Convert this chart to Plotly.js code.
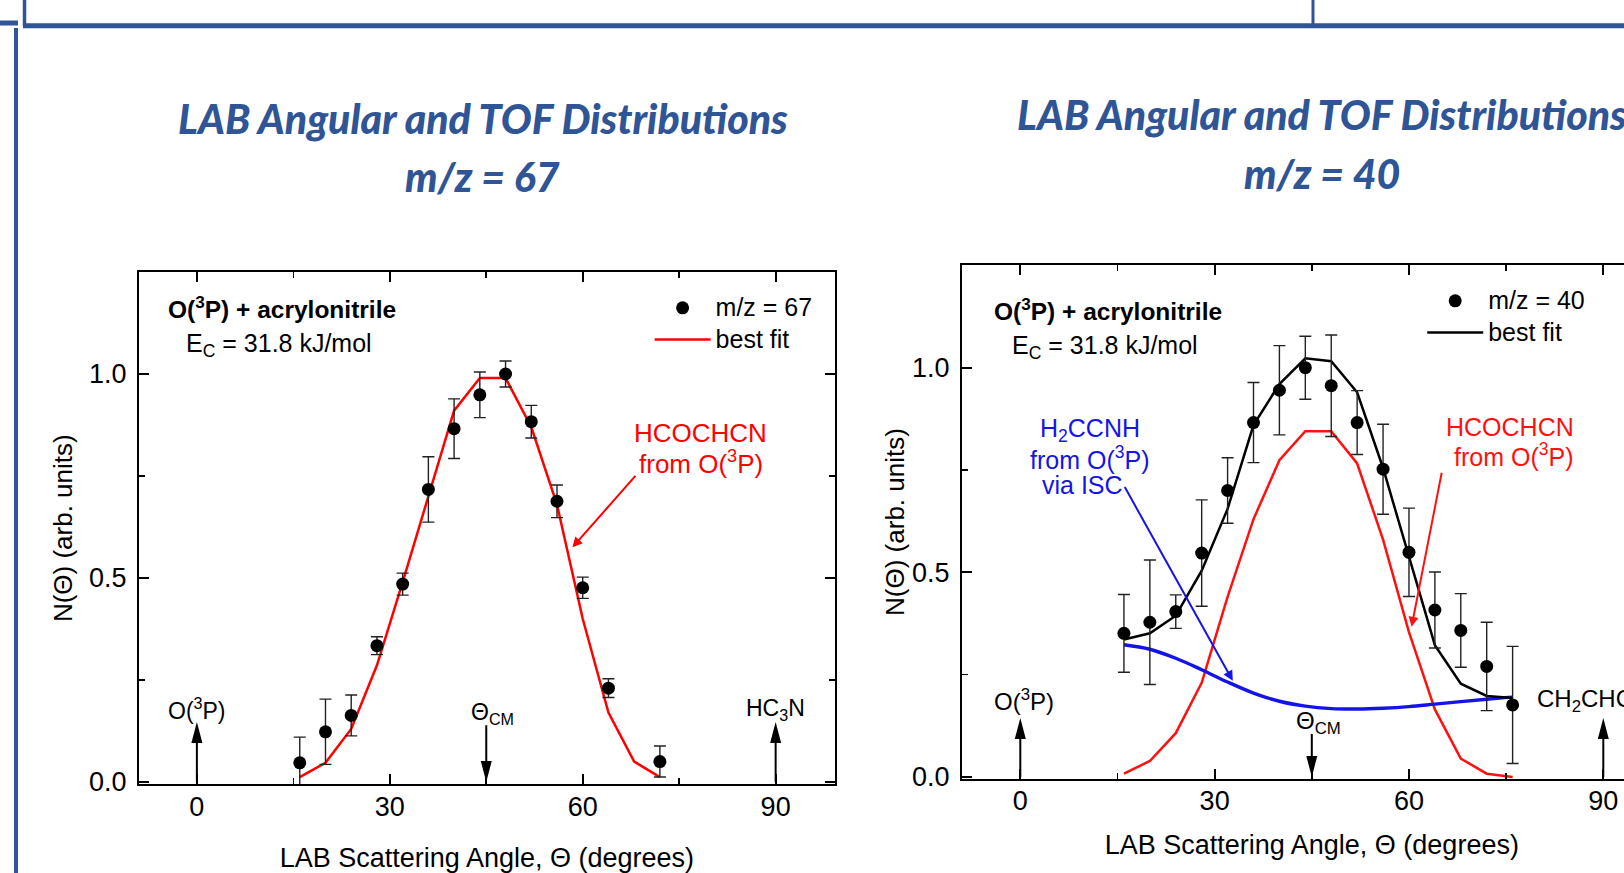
<!DOCTYPE html>
<html><head><meta charset="utf-8">
<script src="https://cdn.plot.ly/plotly-3.0.1.min.js"></script>
<style>html,body{margin:0;padding:0;overflow:hidden;background:#fff;width:1624px;height:873px}#chart{width:1680px;height:873px}</style>
</head><body><div id="chart"></div>
<script>
// ---- data: m/z = 67 ----
const angles67 = [16,20,24,28,32,36,40,44,48,52,56,60,64,72];
const signal67 = [0.047,0.123,0.163,0.334,0.485,0.717,0.866,0.949,1.0,0.883,0.688,0.476,0.23,0.05];
const error67  = [0.063,0.08,0.05,0.022,0.027,0.08,0.073,0.056,0.032,0.04,0.04,0.026,0.023,0.038];
const fitAngles67 = [16,20,24,28,32,36,40,44,48,52,56,60,64,68,72];
const fit67 = [0.012,0.047,0.13,0.286,0.49,0.70,0.91,0.99,0.99,0.87,0.68,0.40,0.17,0.05,0.012];
// ---- data: m/z = 40 ----
const angles40 = [16,20,24,28,32,36,40,44,48,52,56,60,64,68,72,76];
const signal40 = [0.351,0.378,0.404,0.547,0.70,0.866,0.945,1.0,0.956,0.866,0.752,0.549,0.408,0.358,0.27,0.176];
const error40  = [0.095,0.152,0.041,0.13,0.08,0.098,0.109,0.077,0.124,0.078,0.11,0.108,0.093,0.09,0.108,0.143];
const fit40     = [0.336,0.351,0.394,0.504,0.655,0.86,0.96,1.023,1.016,0.94,0.755,0.537,0.322,0.228,0.198,0.193];
const hcochcn40 = [0.008,0.039,0.107,0.23,0.44,0.63,0.774,0.845,0.845,0.766,0.58,0.354,0.165,0.045,0.008,0.0];
const h2ccnh40  = [0.323,0.312,0.29,0.262,0.232,0.205,0.185,0.173,0.167,0.166,0.168,0.172,0.178,0.184,0.19,0.195];
// reference directions (LAB angles)
const refAngles = [0, 45, 90];
const refLabels67 = ['O(<sup>3</sup>P)', 'Θ<sub>CM</sub>', 'HC<sub>3</sub>N'];
const refLabels40 = ['O(<sup>3</sup>P)', 'Θ<sub>CM</sub>', 'CH<sub>2</sub>CHCN'];
const xTicks = [0, 30, 60, 90];
const xMinor = [15, 45, 75];
const yTicks = [0, 0.5, 1.0];
const yMinor = [0.25, 0.75];

const W = 1680, H = 873;
const F = 'Liberation Sans, Arial, sans-serif';
const BLUE = '#2F5597';
const px = v => v / W, py = v => 1 - v / H;
const big = s => '<span style="font-size:25px">' + s + '</span>';

const traces = [
  {x: fitAngles67, y: fit67, type: 'scatter', mode: 'lines', name: big('best fit'), legend: 'legend', legendrank: 2,
   line: {color: '#FF0000', width: 2.5}, xaxis: 'x', yaxis: 'y'},
  {x: angles67, y: signal67, type: 'scatter', mode: 'markers', name: big('m/z = 67'), legend: 'legend', legendrank: 1,
   marker: {color: '#000', size: 13}, error_y: {type: 'data', array: error67, color: '#222', thickness: 1.4, width: 6},
   xaxis: 'x', yaxis: 'y'},
  {x: angles40, y: hcochcn40, type: 'scatter', mode: 'lines', showlegend: false,
   line: {color: '#FF1010', width: 2.5}, xaxis: 'x2', yaxis: 'y2'},
  {x: angles40, y: h2ccnh40, type: 'scatter', mode: 'lines', showlegend: false,
   line: {color: '#1414E6', width: 3.4, shape: 'spline', smoothing: 1}, xaxis: 'x2', yaxis: 'y2'},
  {x: angles40, y: fit40, type: 'scatter', mode: 'lines', name: big('best fit'), legend: 'legend2', legendrank: 2,
   line: {color: '#000', width: 2.5}, xaxis: 'x2', yaxis: 'y2'},
  {x: angles40, y: signal40, type: 'scatter', mode: 'markers', name: big('m/z = 40'), legend: 'legend2', legendrank: 1,
   marker: {color: '#000', size: 13}, error_y: {type: 'data', array: error40, color: '#222', thickness: 1.4, width: 6},
   xaxis: 'x2', yaxis: 'y2'}
];

function xAxis(domain, range, anchor, lblOff, titleOff) {
  return {domain, range, anchor, tickvals: xTicks, ticks: 'inside', ticklen: 10, tickwidth: 2, tickcolor: '#000',
    minor: {tickvals: xMinor, ticks: 'inside', ticklen: 6, tickwidth: 1.6, tickcolor: '#000'},
    mirror: 'allticks', showline: true, linewidth: 2, linecolor: '#000', showgrid: false, zeroline: false,
    ticklabelstandoff: lblOff, tickfont: {family: F, size: 27, color: '#000'},
    title: {text: 'LAB Scattering Angle, Θ (degrees)', font: {family: F, size: 27, color: '#000'}, standoff: titleOff}};
}
function yAxis(domain, range, anchor, titleOff) {
  return {domain, range, anchor, tickvals: yTicks, tickformat: '.1f', ticks: 'inside', ticklen: 10, tickwidth: 2, tickcolor: '#000',
    minor: {tickvals: yMinor, ticks: 'inside', ticklen: 6, tickwidth: 1.6, tickcolor: '#000'},
    mirror: 'allticks', showline: true, linewidth: 2, linecolor: '#000', showgrid: false, zeroline: false,
    ticklabelstandoff: 5, tickfont: {family: F, size: 27, color: '#000'},
    title: {text: 'N(Θ) (arb. units)', font: {family: F, size: 26, color: '#000'}, standoff: titleOff}};
}

const annotations = [];
const shapes = [];
function txt(xref, yref, x, y, text, size, color, opts) {
  annotations.push(Object.assign({xref, yref, x, y, text, showarrow: false,
    font: {family: F, size, color}, xanchor: 'center', yanchor: 'middle'}, opts || {}));
}
function pointer(xr, yr, x, y, ax, ay, color) {
  annotations.push({xref: xr, yref: yr, axref: xr, ayref: yr, x, y, ax, ay, text: '', showarrow: true,
    arrowhead: 2, arrowsize: 1, arrowwidth: 2, arrowcolor: color, standoff: 0, startstandoff: 0});
}
function refArrow(xr, yr, xv, tipY, tailY) {
  const up = tipY > tailY;
  shapes.push({type: 'line', xref: xr, yref: yr, x0: xv, x1: xv, y0: tailY, y1: up ? tipY - 0.02 : tipY + 0.02,
    line: {color: '#000', width: 2}});
  shapes.push({type: 'path', xref: xr, yref: yr, xsizemode: 'pixel', ysizemode: 'pixel', xanchor: xv, yanchor: tipY,
    path: up ? 'M0,0 L-5.5,-21 L5.5,-21 Z' : 'M0,0 L-5.5,21 L5.5,21 Z', fillcolor: '#000', line: {width: 0}});
}

// slide titles
const TF = {family: 'Lato', size: 41, color: BLUE, weight: 900, style: 'italic'};
txt('paper', 'paper', px(483), py(119), 'LAB Angular and TOF Distributions', 41, BLUE, {font: TF});
txt('paper', 'paper', px(483), py(177), 'm/z = 67', 41, BLUE, {font: TF});
txt('paper', 'paper', px(1322), py(115), 'LAB Angular and TOF Distributions', 41, BLUE, {font: TF});
txt('paper', 'paper', px(1322), py(174), 'm/z = 40', 41, BLUE, {font: TF});

// left panel texts
txt('x', 'y', -4.83, 1.163, '<b>O(<sup>3</sup>P) + acrylonitrile</b>', 24.5, '#000', {xanchor: 'left'});
txt('x', 'y', -1.93, 1.072, 'E<sub>C</sub> = 31.8 kJ/mol', 25, '#000', {xanchor: 'left'});
txt('x', 'y', 78.3, 0.855, 'HCOCHCN', 26, '#FF0000');
txt('x', 'y', 78.4, 0.782, 'from O(<sup>3</sup>P)', 26, '#FF0000');
pointer('x', 'y', 58.4, 0.575, 68.4, 0.754, '#FF0000');
txt('x', 'y', 0, 0.178, refLabels67[0], 23, '#000');
txt('x', 'y', 46, 0.168, refLabels67[1], 23, '#000');
txt('x', 'y', 90, 0.178, refLabels67[2], 23, '#000');
refArrow('x', 'y', refAngles[0], 0.147, 0);
refArrow('x', 'y', refAngles[1], 0.0, 0.139);
refArrow('x', 'y', refAngles[2], 0.147, 0);

// right panel texts
txt('x2', 'y2', -4.32, 1.142, '<b>O(<sup>3</sup>P) + acrylonitrile</b>', 24.5, '#000', {xanchor: 'left'});
txt('x2', 'y2', -1.6, 1.05, 'E<sub>C</sub> = 31.8 kJ/mol', 25, '#000', {xanchor: 'left'});
txt('x2', 'y2', 75.6, 0.856, 'HCOCHCN', 25, '#FF1010');
txt('x2', 'y2', 76.2, 0.787, 'from O(<sup>3</sup>P)', 25, '#FF1010');
txt('x2', 'y2', 10.7, 0.848, 'H<sub>2</sub>CCNH', 25, '#1414E6');
txt('x2', 'y2', 10.7, 0.78, 'from O(<sup>3</sup>P)', 25, '#1414E6');
txt('x2', 'y2', 9.6, 0.714, 'via ISC', 25, '#1414E6');
pointer('x2', 'y2', 60.4, 0.367, 65.1, 0.747, '#FF1010');
pointer('x2', 'y2', 32.8, 0.235, 16.0, 0.712, '#1414E6');
txt('x2', 'y2', 0.5, 0.187, refLabels40[0], 24, '#000');
txt('x2', 'y2', 46, 0.134, refLabels40[1], 24, '#000');
txt('x2', 'y2', 79.5, 0.187, refLabels40[2], 24, '#000', {xanchor: 'left'});
refArrow('x2', 'y2', refAngles[0], 0.144, 0);
refArrow('x2', 'y2', refAngles[1], 0.0, 0.105);
refArrow('x2', 'y2', refAngles[2], 0.144, 0);

// slide frame lines
const ln = (x0, y0, x1, y1, w) => shapes.push({type: 'line', xref: 'paper', yref: 'paper', x0: px(x0), x1: px(x1), y0: py(y0), y1: py(y1), line: {color: BLUE, width: w}});
ln(23, 25.7, W, 25.7, 5);
ln(24.5, 0, 24.5, 26, 3.5);
ln(1313, 0, 1313, 26, 3);
ln(16, 28, 16, H, 4);
ln(0, 23, 18, 23, 5);

const legendBase = {xanchor: 'left', yanchor: 'top', bgcolor: 'rgba(0,0,0,0)', borderwidth: 0,
  font: {family: F, size: 22, color: '#000'}, itemwidth: 56, tracegroupgap: 0};
const layout = {
  width: W, height: H, margin: {l: 0, r: 0, t: 0, b: 0}, paper_bgcolor: '#fff', plot_bgcolor: 'rgba(0,0,0,0)',
  font: {family: F, color: '#000'}, showlegend: true,
  xaxis: xAxis([px(139), px(834.8)], [-9, 99.2], 'y', -2, 28),
  yaxis: yAxis([py(784), py(272.4)], [-0.005, 1.249], 'x', 9),
  xaxis2: xAxis([px(962), px(1661.6)], [-9, 99], 'y2', -3, 20),
  yaxis2: yAxis([py(779), py(265)], [-0.005, 1.251], 'x2', 0),
  legend: Object.assign({x: px(649.6), y: py(287)}, legendBase),
  legend2: Object.assign({x: px(1422.2), y: py(280)}, legendBase),
  annotations, shapes
};
Plotly.newPlot('chart', traces, layout, {displayModeBar: false, staticPlot: true});
</script></body></html>
